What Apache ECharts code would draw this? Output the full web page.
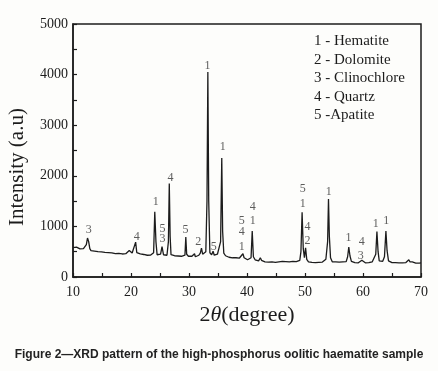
<!DOCTYPE html>
<html>
<head>
<meta charset="utf-8">
<script src="https://cdn.jsdelivr.net/npm/echarts@6/dist/echarts.min.js"></script>
<style>
  html, body { margin: 0; padding: 0; background: #fdfdfb; }
  #main { width: 438px; height: 371px; }
</style>
</head>
<body>
<div id="main"></div>
<script>
// XRD pattern, [2theta, intensity]
var pattern = [
  [10.0,580],[10.3,560],[10.6,590],[10.9,570],[11.2,555],[11.5,575],[11.8,560],[12.1,580],
  [12.3,640],[12.5,770],[12.7,700],[12.9,560],[13.1,520],[13.4,500],[13.7,510],[14.0,485],
  [14.3,500],[14.6,480],[14.9,495],[15.2,470],[15.5,485],[15.8,470],[16.1,480],[16.4,465],
  [16.7,475],[17.0,470],[17.3,460],[17.6,475],[17.9,465],[18.2,470],[18.5,455],[18.8,470],
  [19.1,460],[19.4,480],[19.7,525],[19.9,490],[20.2,475],[20.5,470],[20.8,690],[21.0,480],
  [21.3,450],[21.6,455],[21.9,430],[22.2,445],[22.5,420],[22.8,430],[23.1,415],[23.4,435],
  [23.7,420],[23.9,480],[24.1,1290],[24.3,700],[24.5,440],[24.8,420],[25.1,450],[25.35,600],
  [25.6,440],[25.9,420],[26.2,430],[26.45,700],[26.6,1850],[26.75,800],[26.9,440],[27.2,410],
  [27.5,420],[27.8,400],[28.1,415],[28.4,395],[28.7,410],[29.0,400],[29.3,430],[29.45,790],
  [29.6,450],[29.9,410],[30.2,395],[30.5,410],[30.8,400],[30.95,460],[31.1,400],[31.4,410],
  [31.7,430],[31.95,470],[32.15,570],[32.35,450],[32.6,440],[32.9,500],[33.1,1500],[33.25,4050],
  [33.4,1500],[33.6,480],[33.9,440],[34.15,510],[34.35,430],[34.6,420],[34.9,450],[35.2,440],
  [35.45,700],[35.65,2350],[35.8,900],[36.0,470],[36.3,420],[36.6,440],[36.9,390],[37.2,400],
  [37.5,380],[37.8,370],[38.1,380],[38.4,360],[38.7,375],[39.0,370],[39.3,460],[39.5,380],
  [39.8,350],[40.1,340],[40.4,345],[40.7,380],[40.9,910],[41.1,400],[41.4,340],[41.7,330],
  [42.0,320],[42.3,380],[42.5,330],[42.8,320],[43.1,300],[43.4,320],[43.7,295],[44.0,310],
  [44.3,300],[44.6,315],[44.9,290],[45.2,305],[45.5,300],[45.8,290],[46.1,310],[46.4,295],
  [46.7,305],[47.0,290],[47.3,300],[47.6,295],[47.9,310],[48.2,290],[48.5,305],[48.8,300],
  [49.1,330],[49.3,500],[49.5,1280],[49.7,560],[49.9,380],[50.1,575],[50.3,350],[50.6,300],
  [50.9,310],[51.2,290],[51.5,305],[51.8,285],[52.1,300],[52.4,290],[52.7,305],[53.0,295],
  [53.3,310],[53.6,350],[53.9,700],[54.05,1540],[54.2,800],[54.4,380],[54.7,300],[55.0,290],
  [55.3,300],[55.6,285],[55.9,295],[56.2,290],[56.5,300],[56.8,290],[57.1,305],[57.35,400],
  [57.55,590],[57.75,420],[58.0,310],[58.3,290],[58.6,285],[58.9,295],[59.2,280],[59.5,290],
  [59.8,330],[60.1,295],[60.4,280],[60.7,290],[61.0,285],[61.3,290],[61.6,300],[61.9,310],
  [62.2,450],[62.4,900],[62.6,500],[62.8,320],[63.1,300],[63.4,310],[63.7,400],[63.95,910],
  [64.15,520],[64.4,320],[64.7,290],[65.0,285],[65.3,275],[65.6,285],[65.9,275],[66.2,280],
  [66.5,270],[66.8,280],[67.1,275],[67.4,285],[67.7,310],[67.9,340],[68.1,300],[68.3,335],
  [68.5,300],[68.8,280],[69.1,275],[69.4,285],[69.7,275],[70.0,280]
];

// phase labels over the peaks: [2theta, intensity, text]
var peakLabels = [
  [12.7,930,'3'],[21.0,785,'4'],[24.25,1490,'1'],[25.45,950,'5'],[25.45,745,'3'],
  [26.8,1960,'4'],[29.4,930,'5'],[31.6,700,'2'],[33.2,4170,'1'],[34.25,590,'5'],
  [35.8,2575,'1'],[39.1,1105,'5'],[39.1,895,'4'],[39.1,600,'1'],[41.0,1380,'4'],
  [41.0,1110,'1'],[49.6,1750,'5'],[49.6,1455,'1'],[50.45,995,'4'],[50.45,720,'2'],
  [54.1,1685,'1'],[57.5,765,'1'],[59.8,685,'4'],[59.6,415,'3'],[62.2,1060,'1'],
  [64.0,1105,'1']
];

var phases = ['1 - Hematite', '2 - Dolomite', '3 - Clinochlore', '4 - Quartz', '5 -Apatite'];

var serif = "'Liberation Serif', 'Times New Roman', serif";
var ink = '#1c1c1c';

var myChart = echarts.init(document.getElementById('main'));

var legendText = phases.map(function (t, i) {
  return {
    type: 'text',
    left: 314,
    top: 34 + i * 18.5,
    style: { text: t, font: '15px ' + serif, fill: ink }
  };
});

// ticks every half step (drawn inside), labels only on the whole steps
option = {
  backgroundColor: '#fdfdfb',
  animation: false,
  grid: {
    left: 73, top: 24, right: 17, bottom: 94,
    show: true, borderColor: ink, borderWidth: 1.5, backgroundColor: 'transparent'
  },
  xAxis: {
    type: 'value',
    min: 10, max: 70, interval: 5,
    name: '{a|2}{b|θ}{a|(degree)}',
    nameLocation: 'middle',
    nameGap: 26,
    nameTextStyle: {
      rich: {
        a: { fontFamily: serif, fontSize: 22, color: ink },
        b: { fontFamily: serif, fontSize: 22, color: ink, fontStyle: 'italic' }
      }
    },
    axisLine: { onZero: false, lineStyle: { color: ink, width: 1.5 } },
    axisTick: { inside: true, length: 4, lineStyle: { color: ink, width: 1.2 } },
    axisLabel: {
      fontFamily: serif, fontSize: 14, color: ink, margin: 8,
      formatter: function (v) { return v % 10 === 0 ? String(v) : ''; }
    },
    splitLine: { show: false }
  },
  yAxis: {
    type: 'value',
    min: 0, max: 5000, interval: 500,
    axisLine: { show: true, lineStyle: { color: ink, width: 1.5 } },
    axisTick: { show: true, inside: true, length: 4, lineStyle: { color: ink, width: 1.2 } },
    axisLabel: {
      fontFamily: serif, fontSize: 14, color: ink, margin: 5,
      formatter: function (v) { return v % 1000 === 0 ? String(v) : ''; }
    },
    splitLine: { show: false }
  },
  graphic: legendText.concat([
    {
      type: 'text',
      x: 17, y: 167,
      rotation: Math.PI / 2,
      style: {
        text: 'Intensity (a.u)', font: '21px ' + serif, fill: ink,
        align: 'center', verticalAlign: 'middle'
      }
    },
    {
      type: 'text',
      x: 219, y: 355,
      style: {
        text: 'Figure 2\u2014XRD pattern of the high-phosphorus oolitic haematite sample',
        font: 'bold 12px "Liberation Sans", Arial, sans-serif', fill: '#222',
        align: 'center', verticalAlign: 'middle'
      }
    }
  ]),
  series: [
    {
      type: 'line',
      data: pattern,
      symbol: 'none',
      lineStyle: { color: ink, width: 1.3 },
      z: 2
    },
    {
      type: 'scatter',
      data: peakLabels,
      symbolSize: 0,
      label: {
        show: true,
        position: 'inside',
        formatter: function (p) { return p.value[2]; },
        fontFamily: serif,
        fontSize: 12,
        color: '#333'
      },
      z: 3
    }
  ]
};

myChart.setOption(option);
</script>
</body>
</html>
